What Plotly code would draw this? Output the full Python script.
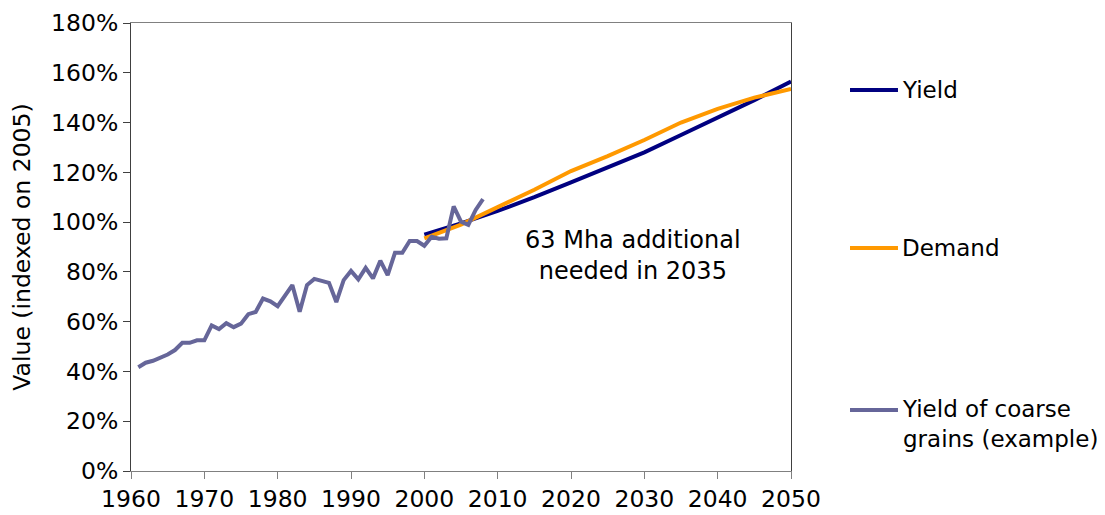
import plotly.graph_objects as go

# ---- data ----
proj_years = [2000, 2005, 2010, 2015, 2020, 2025, 2030, 2035, 2040, 2045, 2050]
yield_proj = [95.0, 99.5, 104.5, 110.0, 116.0, 122.0, 128.0, 135.0, 142.0, 149.0, 156.5]
demand_proj = [93.5, 99.0, 106.0, 113.0, 120.5, 126.5, 133.0, 140.0, 145.5, 150.0, 153.5]

coarse_years = list(range(1961, 2009))
coarse_vals = [41.7, 43.5, 44.3, 45.5, 46.8, 48.6, 51.5, 51.5, 52.5, 52.5,
               58.5, 57.0, 59.4, 57.8, 59.2, 63.0, 63.9, 69.3, 68.2, 66.2,
               70.6, 74.7, 64.0, 74.7, 77.2, 76.5, 75.6, 67.9, 76.7, 80.4,
               77.0, 81.6, 77.4, 84.5, 78.7, 87.7, 87.7, 92.4, 92.4, 90.5,
               94.1, 93.3, 93.5, 106.3, 100.2, 98.9, 104.9, 109.2]

x_ticks = list(range(1960, 2051, 10))
y_ticks = list(range(0, 181, 20))
y_tick_labels = [f"{v}%" for v in y_ticks]

series_names = ["Yield", "Demand", "Yield of coarse<br>grains (example)"]
series_colors = ["#000080", "#FF9900", "#666699"]

FONT = "DejaVu Sans, Verdana, sans-serif"
FS = 23.5

fig = go.Figure()
fig.add_trace(go.Scatter(x=proj_years, y=yield_proj, mode="lines", name="Yield",
                         line=dict(color=series_colors[0], width=4), showlegend=False))
fig.add_trace(go.Scatter(x=proj_years, y=demand_proj, mode="lines", name="Demand",
                         line=dict(color=series_colors[1], width=4), showlegend=False))
fig.add_trace(go.Scatter(x=coarse_years, y=coarse_vals, mode="lines", name="Yield of coarse grains (example)",
                         line=dict(color=series_colors[2], width=4), showlegend=False))

# manual legend (lines + real text)
legend_y = [0.8504, 0.4978, 0.1362]
text_y = [0.8504, 0.4978, 0.1049]
shapes = []
annotations = []
for i in range(3):
    shapes.append(dict(type="line", xref="paper", yref="paper", x0=1.0894, x1=1.1621,
                       y0=legend_y[i], y1=legend_y[i],
                       line=dict(color=series_colors[i], width=4)))
    annotations.append(dict(xref="paper", yref="paper", x=1.1655, y=text_y[i],
                            xanchor="left", yanchor="middle", align="left",
                            text=series_names[i], showarrow=False,
                            font=dict(family=FONT, size=23, color="#000000")))

annotations.append(dict(x=2028.5, y=86.4, xref="x", yref="y",
                        text="63 Mha additional<br>needed in 2035", showarrow=False,
                        align="center", xanchor="center", yanchor="middle",
                        font=dict(family=FONT, size=24, color="#000000")))

fig.update_layout(
    width=1097, height=507,
    margin=dict(l=123, r=314, t=15, b=44, autoexpand=False),
    paper_bgcolor="white", plot_bgcolor="white",
    font=dict(family=FONT, size=FS, color="#000000"),
    shapes=shapes, annotations=annotations,
    showlegend=False,
)
fig.update_xaxes(range=[1960, 2050], tickvals=x_ticks, ticks="outside", ticklen=7,
                 tickcolor="#808080", showline=True, linecolor="#808080", linewidth=1,
                 mirror=True, showgrid=False, zeroline=False,
                 tickfont=dict(family=FONT, size=FS, color="#000000"))
fig.update_yaxes(range=[0, 180], tickvals=y_ticks, ticktext=y_tick_labels, ticks="outside", ticklen=7,
                 tickcolor="#404040", showline=True, linecolor="#404040", linewidth=1,
                 mirror=True, showgrid=False, zeroline=False,
                 title=dict(text="Value (indexed on 2005)", standoff=16,
                            font=dict(family=FONT, size=FS, color="#000000")),
                 tickfont=dict(family=FONT, size=FS, color="#000000"))

fig.write_html("out.html")
